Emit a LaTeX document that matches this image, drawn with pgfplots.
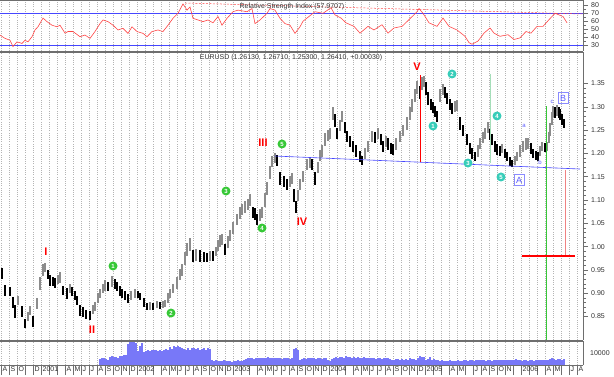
\documentclass[border=0pt]{standalone}
\usepackage{pgfplots}
\pgfplotsset{compat=1.18}
\usepackage{pgfplotstable}
\usepackage{fontspec}
\setmainfont{Liberation Sans}
\definecolor{rsired}{RGB}{255,70,70}
\definecolor{bandblue}{RGB}{70,70,255}
\definecolor{volblue}{RGB}{120,120,248}
\definecolor{gridgray}{RGB}{180,180,180}
\definecolor{axgray}{RGB}{110,110,110}
\definecolor{wgreen}{RGB}{55,200,55}
\definecolor{wteal}{RGB}{55,205,185}
\definecolor{boxblue}{RGB}{90,90,255}
\definecolor{candlegray}{RGB}{140,140,140}
\definecolor{lgreen}{RGB}{165,222,185}
\definecolor{lpink}{RGB}{240,130,130}
\definecolor{txt}{RGB}{50,50,50}

\pgfplotstableread{
x p e d
2 0.943 .012 0
5 0.906 .012 0
10 0.904 .010 0
13 0.880 .012 0
15 0.860 .014 0
18 0.885 .010 1
22 0.860 .012 0
25 0.835 .010 0
28 0.850 .010 1
30 0.863 .010 1
33 0.840 .012 0
37 0.878 .012 1
40 0.920 .014 1
43 0.950 .012 1
45 0.955 .010 1
48 0.940 .010 0
50 0.928 .012 0
53 0.925 .010 0
55 0.922 .010 0
58 0.930 .010 1
60 0.933 .012 1
63 0.906 .010 0
67 0.900 .012 0
70 0.910 .010 1
72 0.904 .010 0
75 0.895 .010 0
77 0.885 .010 0
80 0.863 .012 0
83 0.860 .010 0
86 0.855 .010 0
90 0.852 .010 0
93 0.865 .010 1
95 0.872 .010 1
98 0.890 .010 1
100 0.900 .010 1
103 0.910 .010 1
105 0.917 .012 1
108 0.915 .010 0
112 0.926 .012 1
115 0.920 .010 0
117 0.915 .010 0
120 0.905 .010 0
122 0.900 .010 0
125 0.895 .010 0
128 0.889 .010 0
131 0.895 .010 1
135 0.900 .010 1
138 0.897 .008 0
140 0.893 .008 0
144 0.880 .010 0
147 0.872 .008 0
150 0.873 .008 1
153 0.872 .008 0
157 0.876 .008 1
160 0.874 .008 0
163 0.876 .008 1
165 0.878 .008 1
168 0.890 .010 1
170 0.900 .010 1
173 0.910 .010 1
177 0.922 .012 1
180 0.940 .012 1
182 0.950 .012 1
185 0.975 .014 1
187 0.993 .014 1
190 1.005 .014 1
193 0.980 .012 0
196 0.982 .012 1
200 0.980 .012 0
204 0.978 .010 0
207 0.976 .010 0
210 0.980 .010 1
213 0.980 .010 0
216 0.990 .010 1
218 1.002 .012 1
220 1.012 .012 1
222 1.015 .012 1
225 0.993 .012 0
228 1.010 .012 1
230 1.024 .012 1
233 1.040 .012 1
237 1.059 .012 1
240 1.072 .012 1
242 1.080 .012 1
245 1.085 .012 1
248 1.091 .012 1
250 1.100 .012 1
253 1.074 .012 0
255 1.070 .012 0
257 1.059 .012 0
260 1.068 .012 1
262 1.074 .012 1
265 1.100 .014 1
267 1.124 .014 1
270 1.160 .014 1
272 1.183 .012 1
275 1.190 .010 1
277 1.185 .012 0
280 1.146 .014 0
284 1.140 .012 0
287 1.133 .012 0
290 1.140 .012 1
292 1.146 .012 1
294 1.110 .014 0
296 1.085 .012 0
298 1.110 .012 1
300 1.133 .012 1
303 1.150 .012 1
307 1.176 .012 1
310 1.180 .012 1
312 1.176 .012 0
315 1.146 .014 0
318 1.170 .012 1
320 1.195 .012 1
322 1.205 .012 1
325 1.230 .014 1
328 1.238 .012 1
330 1.243 .012 1
333 1.285 .014 1
335 1.270 .014 0
337 1.243 .012 0
340 1.260 .012 1
342 1.280 .012 1
345 1.255 .012 0
347 1.237 .012 0
350 1.225 .012 0
353 1.215 .012 0
356 1.205 .012 0
360 1.193 .012 0
362 1.185 .010 0
365 1.200 .012 1
368 1.215 .012 1
372 1.237 .012 1
375 1.235 .012 0
378 1.243 .012 1
381 1.230 .012 0
383 1.215 .012 0
386 1.225 .012 1
388 1.220 .012 0
391 1.210 .012 0
393 1.209 .012 0
396 1.220 .012 1
400 1.237 .012 1
403 1.250 .012 1
407 1.265 .014 1
410 1.285 .014 1
412 1.302 .014 1
415 1.325 .014 1
417 1.341 .014 1
420 1.330 .014 0
422 1.350 .014 1
424 1.355 .012 1
426 1.340 .014 0
428 1.317 .014 0
431 1.305 .012 0
433 1.298 .012 0
435 1.290 .012 0
437 1.280 .012 0
440 1.324 .014 1
443 1.338 .012 1
445 1.330 .012 0
447 1.317 .012 0
450 1.305 .012 0
452 1.296 .012 0
455 1.300 .012 1
457 1.302 .012 1
460 1.265 .014 0
463 1.250 .012 0
467 1.230 .012 0
470 1.210 .012 0
472 1.200 .012 0
475 1.193 .010 0
478 1.205 .012 1
480 1.222 .012 1
483 1.235 .012 1
485 1.243 .012 1
488 1.255 .012 1
490 1.240 .012 0
492 1.230 .012 0
495 1.215 .012 0
497 1.209 .012 0
500 1.205 .010 0
502 1.210 .010 1
505 1.200 .010 0
507 1.193 .010 0
510 1.182 .010 0
512 1.178 .008 0
515 1.185 .010 1
517 1.193 .010 1
520 1.205 .012 1
523 1.215 .012 1
526 1.220 .012 1
528 1.222 .012 1
531 1.210 .012 0
533 1.200 .010 0
536 1.195 .010 0
538 1.193 .010 0
540 1.205 .010 1
542 1.215 .010 1
545 1.212 .010 0
547 1.215 .010 1
549 1.235 .012 1
550 1.252 .014 1
552 1.275 .014 1
553 1.290 .012 1
555 1.288 .012 0
557 1.292 .012 1
559 1.288 .012 0
560 1.283 .012 0
562 1.272 .012 0
564 1.264 .010 0
}\pricetab

\pgfplotstableread{
x r
0 42.6
5 38.4
10 36
13 28
17 34
22 32
25 36
28 34
32 40.5
35 49
38 53
43 64
47 59.5
52 55
57 53
60 55
65 45
68 47
73 47
80 40.5
85 42.6
90 38.4
95 47
100 57
103 61.6
108 59.5
113 55
118 49
123 51
128 44.7
132 53
137 47
143 44.7
147 40.5
152 47
158 49
163 47
168 55
173 63.7
178 70
183 81.8
187 74
190 78
193 63.7
198 61.6
203 59.5
208 61.6
213 58
218 66
222 55
227 63.7
233 72
238 74
247 72
252 76
255 57
260 61.6
267 70
270 76
275 74
280 63.7
285 57
290 55
295 44.7
300 53
303 60
309 66
315 72
323 70
331 77
335 68
341 64
346 58
354 53.5
360 45
368 53.5
374 49
382 55.6
388 45
394 51.5
402 53.5
409 62
417 72
419 76
423 70
429 58
437 53.5
443 64
449 53.5
457 49
465 41
469 33
472 31
478 35
484 45
490 51.5
494 45
500 41
508 43
514 37
520 39
526 47
531 45
537 53.5
543 53.5
549 62
555 70
559 68
563 66
567 58
}\rsitab

\pgfplotstableread{
x v
100 5500
102 6000
104 6500
106 5000
108 4500
110 7000
112 7500
114 7000
116 7200
118 6500
120 8000
122 7500
124 8500
126 9000
128 18500
130 20000
132 20500
134 20000
136 19500
138 12500
140 17000
142 19000
144 11000
146 12000
148 13000
150 12500
152 13500
154 13000
156 13000
158 12000
160 13000
162 12500
164 13500
166 14000
168 13500
170 15500
172 14000
174 16500
176 16000
178 16500
180 15500
182 15000
184 14000
186 13000
188 14500
190 13500
192 14500
194 15000
196 14000
198 14500
200 13000
202 14000
204 14500
206 13500
208 14500
210 14000
212 4000
214 3800
216 4200
218 3500
220 3800
222 3600
224 4000
226 3700
228 3500
230 3200
232 3000
234 3500
236 3300
238 4000
240 3800
242 3500
244 4500
246 5500
248 6000
250 5800
252 6200
254 5500
256 6000
258 6300
260 6500
262 6200
264 6000
266 6400
268 6600
270 6200
272 6500
274 6000
276 5800
278 6400
280 6200
282 5500
284 6000
286 5800
288 6300
290 5500
292 6000
294 14000
296 15000
298 13000
300 4500
302 5000
304 6000
306 5500
308 6500
310 6000
312 5800
314 6200
316 5500
318 6000
320 5800
322 5600
324 6000
326 6300
328 4500
330 3500
332 5000
334 6500
336 7000
338 6500
340 6800
342 7200
344 6500
346 7500
348 7000
350 6800
352 6500
354 7000
356 6500
358 6800
360 6200
362 6500
364 7000
366 6000
368 6500
370 5800
372 6000
374 6500
376 5500
378 6200
380 6000
382 5500
384 6000
386 5800
388 6200
390 5000
392 4500
394 4800
396 5000
398 5200
400 4500
402 5000
404 4800
406 5200
408 4500
410 6500
412 5000
414 5500
416 4800
418 6500
420 7500
422 7000
424 7000
426 4800
428 5000
430 7000
432 4500
434 5000
436 4200
438 4500
440 3800
442 4000
444 3500
446 3800
448 3600
450 4000
452 3500
454 3800
456 3500
458 4000
460 3800
462 3500
464 4200
466 4000
468 3800
470 4200
472 4000
474 3800
476 4200
478 4000
480 4500
482 4200
484 4000
486 3800
488 4200
490 4000
492 3800
494 4300
496 4000
498 4500
500 4200
502 4000
504 4300
506 4000
508 4200
510 4500
512 4000
514 4300
516 5500
518 4000
520 4200
522 3800
524 4000
526 4500
528 3800
530 4200
532 4000
534 3800
536 4000
538 4500
540 4200
542 4000
544 4800
546 4200
548 4500
550 5000
552 6500
554 5500
556 4500
558 5000
560 5500
562 4800
564 5200
}\voltab

\pgfplotsset{
  panel/.style={
    scale only axis, width=583pt,
    xmin=0, xmax=583,
    axis x line*=box, axis y line*=right,
    axis line style={axgray, line width=0.6pt},
    xtick={1,9,...,577},
    xmajorgrids,
    grid style={gridgray, dash pattern=on 0.6pt off 1.6pt, line width=0.5pt},
    tick align=outside,
    tick style={axgray, line width=0.5pt},
    major tick length=5pt, minor tick length=3pt,
    tick label style={font=\fontsize{7}{8}\selectfont, text=txt},
    /pgf/number format/assume math mode=true,
    yticklabel style={inner sep=1pt, xshift=2pt},
    scaled y ticks=false,
  },
  noxlab/.style={xticklabels={}, xtick style={draw=none}},
}
\tikzset{
  wn/.style={font=\fontsize{11}{11}\selectfont\bfseries, text=red, inner sep=0pt},
  gc/.style={circle, fill=wgreen, text=white, font=\fontsize{6}{6}\selectfont\bfseries, inner sep=0pt, minimum size=9pt},
  tc/.style={gc, fill=wteal},
  bx/.style={draw=boxblue!70, line width=0.6pt, text=boxblue, font=\fontsize{9}{9}\selectfont, inner sep=1pt, minimum width=10pt, minimum height=11pt},
  sl/.style={text=boxblue, font=\fontsize{6}{6}\selectfont, inner sep=0pt},
}

\begin{document}
\begin{tikzpicture}
\path (0pt,0pt) rectangle (614pt,376pt);

% RSI panel
\begin{axis}[panel, noxlab, at={(0pt,325pt)}, anchor=south west, height=51pt,
  ymin=22.46, ymax=86.77, ytick={30,40,...,80}, minor y tick num=1]
\addplot[bandblue, line width=0.7pt] coordinates {(0,70) (583,70)};
\addplot[bandblue, line width=0.7pt] coordinates {(0,30) (583,30)};
\addplot[rsired, line width=0.5pt, dash pattern=on 2pt off 1.5pt] coordinates {(185,83) (583,69.1)};
\addplot[rsired, line width=0.6pt, mark=none] table[x=x, y=r] {\rsitab};
\node[font=\fontsize{7}{8}\selectfont, text=txt, inner sep=0pt] at (axis cs:292,77.9) {Relative Strength Index (57.9707)};
\end{axis}

% Price panel
\begin{axis}[panel, noxlab, at={(0pt,36pt)}, anchor=south west, height=288pt,
  ymin=0.7996, ymax=1.4176, ytick={0.85,0.90,...,1.36}, minor y tick num=4,
  yticklabel style={/pgf/number format/.cd, fixed, fixed zerofill, precision=2}]
\addplot[draw=none, mark=none, restrict expr to domain={\thisrow{d}}{1:1},
  error bars/.cd, y dir=both, y explicit, error mark=none,
  error bar style={draw=candlegray, line width=2.5pt}]
  table[x=x, y=p, y error=e] {\pricetab};
\addplot[draw=none, mark=none, restrict expr to domain={\thisrow{d}}{0:0},
  error bars/.cd, y dir=both, y explicit, error mark=none,
  error bar style={draw=black, line width=2.5pt}]
  table[x=x, y=p, y error=e] {\pricetab};
% support line
\addplot[bandblue, line width=0.6pt] coordinates {(275,1.1944) (580,1.1665)};
% vertical markers
\addplot[red, line width=0.6pt] coordinates {(420,1.3682) (420,1.1815)};
\addplot[lgreen, line width=1pt] coordinates {(490,1.3704) (490,1.1794)};
\addplot[wgreen, line width=0.6pt] coordinates {(546,1.3017) (546,0.7996)};
\addplot[lpink, line width=1pt] coordinates {(565,1.1644) (565,0.9798)};
\addplot[red, line width=2.5pt] coordinates {(522,0.9798) (575,0.9798)};
% title
\node[font=\fontsize{7}{8}\selectfont, text=txt, inner sep=0pt] at (axis cs:291,1.4047) {EURUSD (1.26130, 1.26710, 1.25300, 1.26410, +0.00030)};
% wave labels
\node[wn] at (axis cs:46,0.9884) {I};
\node[wn] at (axis cs:92,0.821) {II};
\node[wn] at (axis cs:263,1.2223) {III};
\node[wn] at (axis cs:302,1.0528) {IV};
\node[wn] at (axis cs:417,1.3854) {V};
\node[gc] at (axis cs:113,0.9584) {1};
\node[gc] at (axis cs:171,0.8575) {2};
\node[gc] at (axis cs:226,1.1193) {3};
\node[gc] at (axis cs:262,1.0399) {4};
\node[gc] at (axis cs:282,1.2202) {5};
\node[tc] at (axis cs:433,1.2588) {1};
\node[tc] at (axis cs:452,1.3704) {2};
\node[tc] at (axis cs:468,1.1794) {3};
\node[tc] at (axis cs:497,1.2803) {4};
\node[tc] at (axis cs:501,1.1494) {5};
\node[sl] at (axis cs:524,1.2588) {a};
\node[sl] at (axis cs:540,1.1815) {b};
\node[sl] at (axis cs:552,1.3103) {c};
\node[bx] at (axis cs:519,1.1429) {A};
\node[bx] at (axis cs:563,1.3189) {B};
\end{axis}

% Volume panel
\begin{axis}[panel, at={(0pt,11pt)}, anchor=south west, height=24pt,
  ymin=0, ymax=21000, ytick={10000}, yticklabels={10000},
  major tick length=10pt, ytick style={draw=none},
  yticklabel style={xshift=-6pt},
  xtick pos=left,
  xticklabels={A,S,O,,D,2001,,,A,M,J,J,A,S,O,N,D,2002,,,A,M,J,J,A,S,O,N,D,2003,,,A,M,J,J,A,S,O,N,D,2004,,,A,M,J,J,A,S,O,N,D,2005,,,A,M,,J,A,S,O,N,,2006,,,A,M,,J,A},
  xticklabel style={anchor=north west, inner sep=0pt, xshift=1.5pt, yshift=8.5pt}]
\addplot[ycomb, volblue, line width=1.1pt, mark=none] table[x=x, y=v] {\voltab};
\end{axis}
\pgfresetboundingbox
\useasboundingbox (0pt,0pt) rectangle (614pt,376pt);
\end{tikzpicture}
\end{document}
